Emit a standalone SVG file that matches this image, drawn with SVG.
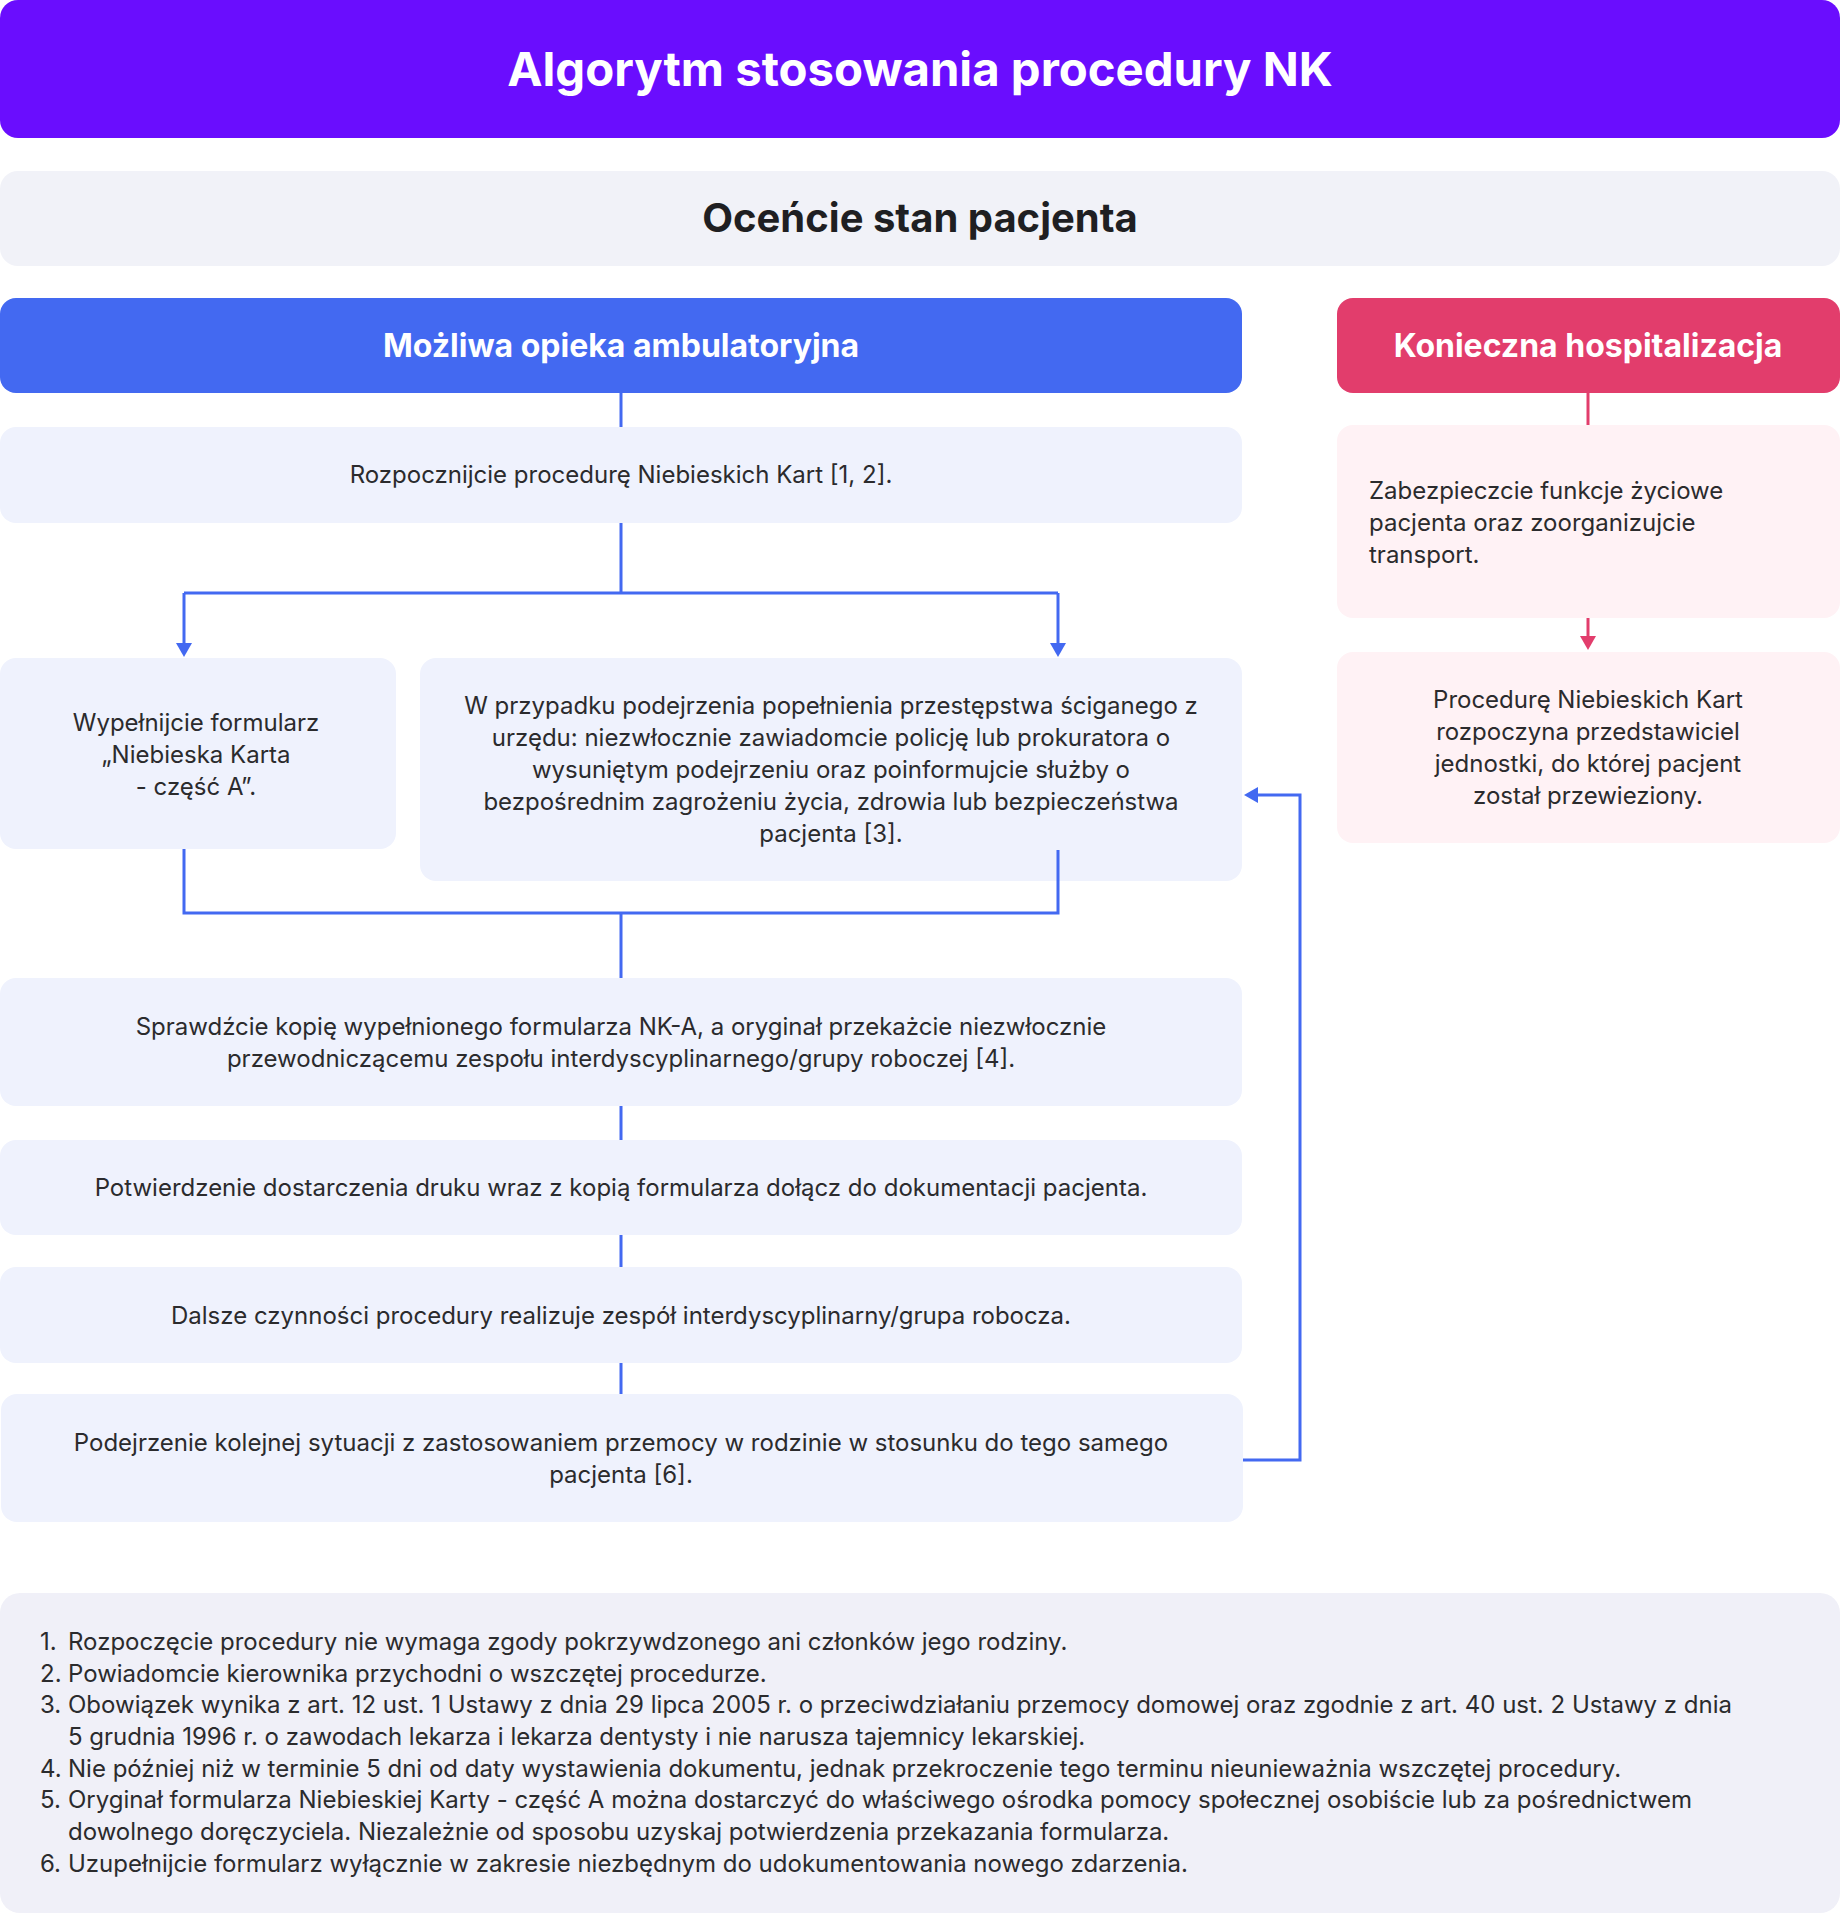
<svg xmlns="http://www.w3.org/2000/svg" width="1840" height="1913" viewBox="0 0 1840 1913">
<style>
text{font-family:Inter,"Noto Sans","Liberation Sans",sans-serif}
.t{font-size:24px;fill:#2b2b2d}
.c{text-anchor:middle}
.hd{font-size:32px;font-weight:700;fill:#fff;text-anchor:middle}
.box{fill:#eff2fd}
.pink{fill:#fff2f5}
.ln{fill:none;stroke:#4369f1;stroke-width:3}
.lr{fill:none;stroke:#e23d6c;stroke-width:3}
</style>
<defs>
<marker id="ab" viewBox="0 0 14 16" refX="0" refY="8" markerWidth="14" markerHeight="16" markerUnits="userSpaceOnUse" orient="auto"><path d="M0,0 L14,8 L0,16 z" fill="#4369f1"/></marker>
<marker id="ar" viewBox="0 0 14 16" refX="0" refY="8" markerWidth="14" markerHeight="16" markerUnits="userSpaceOnUse" orient="auto"><path d="M0,0 L14,8 L0,16 z" fill="#e23d6c"/></marker>
</defs>
<rect width="1840" height="1913" fill="#fff"/>

<g id="title">
<rect x="0" y="0" width="1840" height="138" rx="18" fill="#6a0dfe"/>
<text x="920" y="86" font-size="47.3" font-weight="700" fill="#fff" text-anchor="middle">Algorytm stosowania procedury NK</text>
</g>

<g id="ocencie">
<rect x="0" y="171" width="1840" height="95" rx="18" fill="#f1f2f8"/>
<text x="920" y="232" font-size="40" font-weight="700" fill="#1f1f22" text-anchor="middle">Oceńcie stan pacjenta</text>
</g>

<g id="connectors">
<path class="ln" d="M621 393 V427"/>
<path class="ln" d="M621 523 V593 M184 593 H1058"/>
<path class="ln" d="M184 593 V643" marker-end="url(#ab)"/>
<path class="ln" d="M1058 593 V643" marker-end="url(#ab)"/>
<path class="ln" d="M621 1106 V1140 M621 1235 V1267 M621 1363 V1394"/>
<path class="ln" d="M1243 1460 H1300 V795 H1258" marker-end="url(#ab)"/>
<path class="lr" d="M1588 393 V425"/>
<path class="lr" d="M1588 618 V636" marker-end="url(#ar)"/>
</g>

<g id="ambulatoryjna">
<rect x="0" y="298" width="1242" height="95" rx="16" fill="#4369f1"/>
<text class="hd" x="621" y="357">Możliwa opieka ambulatoryjna</text>
</g>

<g id="hospitalizacja">
<rect x="1337" y="298" width="503" height="95" rx="16" fill="#e23d6c"/>
<text class="hd" x="1588" y="357">Konieczna hospitalizacja</text>
</g>

<g id="rozpocznijcie">
<rect class="box" x="0" y="427" width="1242" height="96" rx="16"/>
<text class="t c" x="621" y="483">Rozpocznijcie procedurę Niebieskich Kart [1, 2].</text>
</g>

<g id="wypelnijcie">
<rect class="box" x="0" y="658" width="396" height="191" rx="16"/>
<text class="t c" x="196" y="731">Wypełnijcie formularz</text>
<text class="t c" x="196" y="763">„Niebieska Karta</text>
<text class="t c" x="196" y="795">- część A”.</text>
</g>

<g id="przypadku">
<rect class="box" x="420" y="658" width="822" height="223" rx="16"/>
<text class="t c" x="831" y="714">W przypadku podejrzenia popełnienia przestępstwa ściganego z</text>
<text class="t c" x="831" y="746">urzędu: niezwłocznie zawiadomcie policję lub prokuratora o</text>
<text class="t c" x="831" y="778">wysuniętym podejrzeniu oraz poinformujcie służby o</text>
<text class="t c" x="831" y="810">bezpośrednim zagrożeniu życia, zdrowia lub bezpieczeństwa</text>
<text class="t c" x="831" y="842">pacjenta [3].</text>
</g>

<g id="merge">
<path class="ln" d="M184 849 V913 H1058 V850 M621 913 V978"/>
</g>

<g id="sprawdzcie">
<rect class="box" x="0" y="978" width="1242" height="128" rx="16"/>
<text class="t c" x="621" y="1035">Sprawdźcie kopię wypełnionego formularza NK-A, a oryginał przekażcie niezwłocznie</text>
<text class="t c" x="621" y="1067">przewodniczącemu zespołu interdyscyplinarnego/grupy roboczej [4].</text>
</g>

<g id="potwierdzenie">
<rect class="box" x="0" y="1140" width="1242" height="95" rx="16"/>
<text class="t c" x="621" y="1196">Potwierdzenie dostarczenia druku wraz z kopią formularza dołącz do dokumentacji pacjenta.</text>
</g>

<g id="dalsze">
<rect class="box" x="0" y="1267" width="1242" height="96" rx="16"/>
<text class="t c" x="621" y="1324">Dalsze czynności procedury realizuje zespół interdyscyplinarny/grupa robocza.</text>
</g>

<g id="podejrzenie">
<rect class="box" x="1" y="1394" width="1242" height="128" rx="16"/>
<text class="t c" x="621" y="1451">Podejrzenie kolejnej sytuacji z zastosowaniem przemocy w rodzinie w stosunku do tego samego</text>
<text class="t c" x="621" y="1483">pacjenta [6].</text>
</g>

<g id="zabezpieczcie">
<rect class="pink" x="1337" y="425" width="503" height="193" rx="16"/>
<text class="t" x="1369" y="499">Zabezpieczcie funkcje życiowe</text>
<text class="t" x="1369" y="531">pacjenta oraz zoorganizujcie</text>
<text class="t" x="1369" y="563">transport.</text>
</g>

<g id="procedure-nk">
<rect class="pink" x="1337" y="652" width="503" height="191" rx="16"/>
<text class="t c" x="1588" y="708">Procedurę Niebieskich Kart</text>
<text class="t c" x="1588" y="740">rozpoczyna przedstawiciel</text>
<text class="t c" x="1588" y="772">jednostki, do której pacjent</text>
<text class="t c" x="1588" y="804">został przewieziony.</text>
</g>

<g id="footnotes">
<rect x="0" y="1593" width="1840" height="320" rx="20" fill="#f0f0f8"/>
<g class="t">
<text x="40" y="1650">1.</text><text x="68" y="1650">Rozpoczęcie procedury nie wymaga zgody pokrzywdzonego ani członków jego rodziny.</text>
<text x="40" y="1682">2.</text><text x="68" y="1682">Powiadomcie kierownika przychodni o wszczętej procedurze.</text>
<text x="40" y="1713">3.</text><text x="68" y="1713">Obowiązek wynika z art. 12 ust. 1 Ustawy z dnia 29 lipca 2005 r. o przeciwdziałaniu przemocy domowej oraz zgodnie z art. 40 ust. 2 Ustawy z dnia</text>
<text x="68" y="1745">5 grudnia 1996 r. o zawodach lekarza i lekarza dentysty i nie narusza tajemnicy lekarskiej.</text>
<text x="40" y="1777">4.</text><text x="68" y="1777">Nie później niż w terminie 5 dni od daty wystawienia dokumentu, jednak przekroczenie tego terminu nieunieważnia wszczętej procedury.</text>
<text x="40" y="1808">5.</text><text x="68" y="1808">Oryginał formularza Niebieskiej Karty - część A można dostarczyć do właściwego ośrodka pomocy społecznej osobiście lub za pośrednictwem</text>
<text x="68" y="1840">dowolnego doręczyciela. Niezależnie od sposobu uzyskaj potwierdzenia przekazania formularza.</text>
<text x="40" y="1872">6.</text><text x="68" y="1872">Uzupełnijcie formularz wyłącznie w zakresie niezbędnym do udokumentowania nowego zdarzenia.</text>
</g>
</g>
</svg>
